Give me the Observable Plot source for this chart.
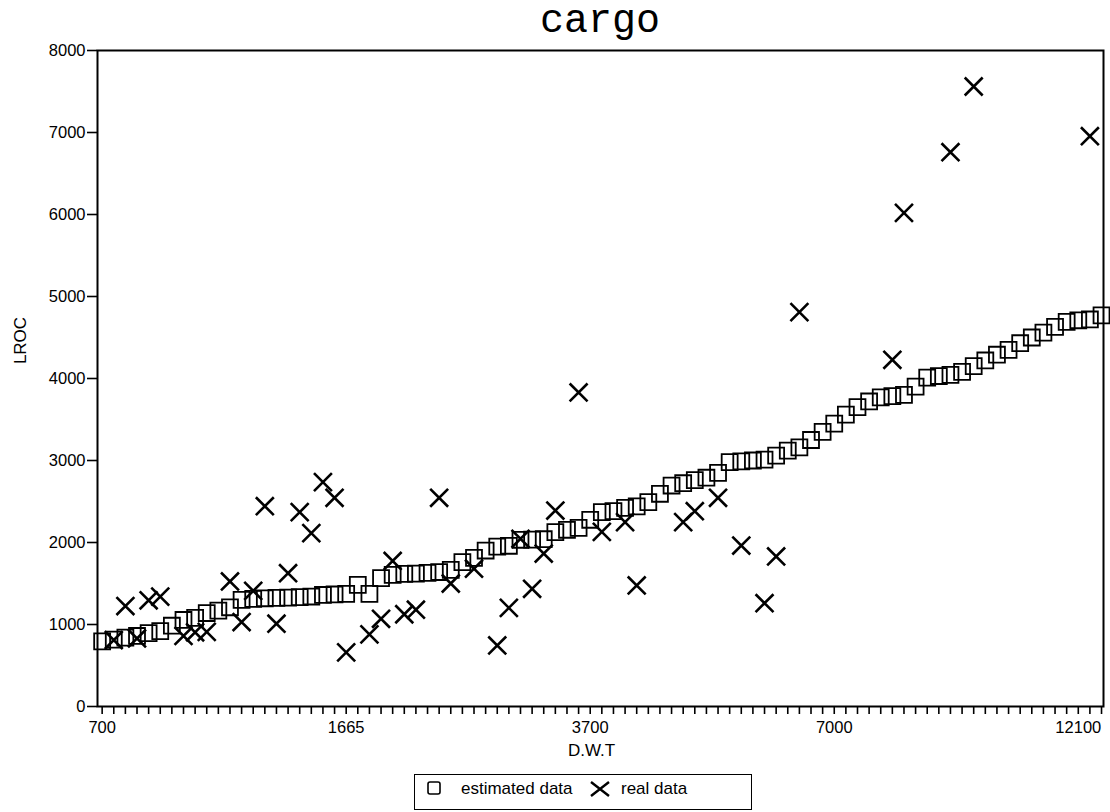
<!DOCTYPE html>
<html>
<head>
<meta charset="utf-8">
<script src="https://cdn.jsdelivr.net/npm/d3@7"></script>
<script src="https://cdn.jsdelivr.net/npm/@observablehq/plot@0.6"></script>
<style>
  html, body { margin: 0; padding: 0; background: #fff; }
  #page { position: relative; width: 1110px; height: 812px; background: #fff; overflow: hidden; }
  #title { position: absolute; top: 0; left: 97px; width: 1006px; height: 44px; line-height: 44px;
           text-align: center; font-family: "Liberation Mono", "DejaVu Sans Mono", monospace; font-size: 40px; color: #000; }
  #chart { position: absolute; top: 40px; left: 0; }
  #legend { position: absolute; top: 774px; left: 414px; width: 336px; height: 34px; border: 1.6px solid #000;
            font-family: "Liberation Sans", Arial, sans-serif; font-size: 17px; color: #000; }
  #legend .it { position: absolute; top: 0; height: 34px; line-height: 27px; }
  #legend svg { position: absolute; }
</style>
</head>
<body>
<div id="page">
  <div id="title">cargo</div>
  <div id="chart"></div>
  <div id="legend">
    <svg style="left:11px;top:5px" width="16" height="17"><rect x="2" y="2" width="12" height="12" rx="2" fill="none" stroke="#000" stroke-width="1.6"/></svg>
    <span class="it" style="left:46px">estimated data</span>
    <svg style="left:173px;top:4px" width="24" height="20"><path d="M3,3L21,17M3,17L21,3" stroke="#000" stroke-width="2.4" fill="none"/></svg>
    <span class="it" style="left:206px">real data</span>
  </div>
</div>
<script>
// x categories: rank of the ship (sorted by D.W.T); labelled ranks and their D.W.T labels
const tickIdx = [0, 21, 42, 63, 84];
const tickLabels = ["700", "1665", "3700", "7000", "12100"];
const yTicks = [0, 1000, 2000, 3000, 4000, 5000, 6000, 7000, 8000];

// estimated data (one value per rank 0..86)
const estimated = [
  795, 815, 840, 860, 895, 920, 985, 1055, 1080, 1140,
  1170, 1210, 1300, 1312, 1320, 1325, 1328, 1333, 1341, 1360,
  1366, 1374, 1484, 1374, 1565, 1606, 1618, 1620, 1630, 1640,
  1667, 1760, 1813, 1902, 1950, 1960, 2033, 2035, 2040, 2126,
  2155, 2179, 2277, 2370, 2382, 2423, 2440, 2492, 2594, 2695,
  2723, 2760, 2790, 2850, 2980, 2990, 3000, 3010, 3060, 3120,
  3160, 3250, 3350, 3450, 3560, 3650, 3720, 3770, 3785, 3800,
  3900, 4010, 4030, 4045, 4080, 4150, 4220, 4290, 4350, 4430,
  4500, 4560, 4630, 4690, 4710, 4720, 4770
];

// real data: rank and value
const realIdx = [1, 2, 3, 4, 5, 7, 8, 9, 11, 12, 13, 14, 15, 16, 17, 18, 19, 20, 21, 23,
  24, 25, 26, 27, 29, 30, 32, 34, 35, 36, 37, 38, 39, 41, 43, 45, 46, 50, 51, 53,
  55, 57, 58, 60, 68, 69, 73, 75, 85];
const realVal = [810, 1225, 830, 1295, 1340, 860, 905, 910, 1525, 1030, 1410, 2443, 1010, 1626, 2370, 2114, 2736, 2545, 660, 880,
  1070, 1775, 1125, 1180, 2545, 1500, 1680, 744, 1203, 2045, 1435, 1865, 2390, 3830, 2130, 2248, 1476, 2248, 2382, 2545,
  1963, 1260, 1830, 4809, 4228, 6020, 6760, 7561, 6955];

const est = estimated.map((v, i) => ({i, v}));
const real = realIdx.map((i, k) => ({i, v: realVal[k]}));
const labelOf = new Map(tickIdx.map((t, k) => [t, tickLabels[k]]));
const allRanks = estimated.map((_, i) => i);

const chart = Plot.plot({
  width: 1110,
  height: 730,
  marginLeft: 97,
  marginRight: 7,
  marginTop: 10,
  marginBottom: 64,
  style: {fontFamily: "'Liberation Sans', Arial, sans-serif", fontSize: "16px", color: "#000", background: "#fff", overflow: "visible"},
  x: {type: "linear", domain: [-0.4, 86.17]},
  y: {domain: [0, 8000]},
  marks: [
    Plot.axisX({ticks: allRanks, tickSize: 8, tickPadding: 7, strokeWidth: 1.6, fontSize: 16.5,
                tickFormat: t => labelOf.get(t) ?? "", label: null}),
    Plot.axisY({ticks: yTicks, tickSize: 10, tickPadding: 2, strokeWidth: 1.6, fontSize: 16.5,
                tickFormat: d => String(d), label: null}),
    Plot.frame({stroke: "#000", strokeWidth: 2}),
    Plot.dot(est, {x: "i", y: "v", symbol: "square", r: 9, stroke: "#000", strokeWidth: 1.8, fill: "none"}),
    Plot.dot(real, {x: "i", y: "v", symbol: "times", r: 8.2, stroke: "#000", strokeWidth: 2.6}),
    Plot.text(["D.W.T"], {text: d => d, frameAnchor: "bottom", textAnchor: "middle", lineAnchor: "middle",
                          dx: -9, dy: 44, fontSize: 17}),
    Plot.text(["LROC"], {text: d => d, frameAnchor: "left", textAnchor: "middle", lineAnchor: "middle",
                         rotate: -90, dx: -77, dy: -38, fontSize: 17})
  ]
});
document.getElementById("chart").appendChild(chart);
</script>
</body>
</html>
